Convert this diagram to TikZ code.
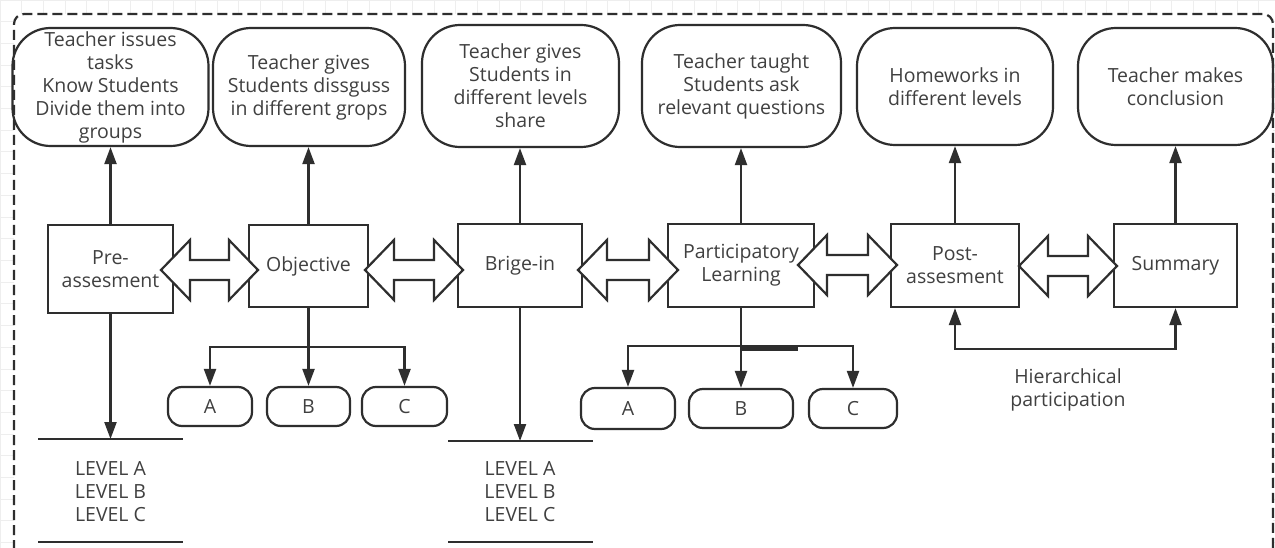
\documentclass[tikz,border=0pt]{standalone}
\usepackage{fontspec}
\setmainfont{Open Sans}
\usetikzlibrary{arrows.meta,calc}
\definecolor{ln}{HTML}{2E2E2E}
\definecolor{tx}{HTML}{404040}
\definecolor{gridc}{HTML}{EEEEEE}
\newcommand\blockarrow[3]{%
  \filldraw[fill=white,draw=ln,line width=2.2pt,line join=miter]
    (#1,#3) -- ({#1+29},{#3-30}) -- ({#1+29},{#3-10}) -- ({#2-29},{#3-10})
    -- ({#2-29},{#3-30}) -- (#2,#3) -- ({#2-29},{#3+30}) -- ({#2-29},{#3+10})
    -- ({#1+29},{#3+10}) -- ({#1+29},{#3+30}) -- cycle;}
\begin{document}
\begin{tikzpicture}[x=1pt,y=-1pt,
  txt/.style={text=tx,font=\fontsize{19.5}{23}\selectfont,align=center},
  tbox/.style={txt,draw=ln,line width=2.2pt,rounded corners=38pt,inner sep=0pt,
    minimum width=196pt,minimum height=118pt},
  mbox/.style={txt,draw=ln,line width=2.2pt,inner sep=0pt},
  sbox/.style={txt,draw=ln,line width=2.2pt,rounded corners=14pt,inner sep=0pt,
    minimum height=39pt},
  conn/.style={draw=ln,line width=2.2pt},
  arr/.style={conn,-{Triangle[length=17pt,width=12pt]}},
  darr/.style={conn,{Triangle[length=17pt,width=12pt]}-{Triangle[length=17pt,width=12pt]}}
]
\useasboundingbox (0,0) rectangle (1275,548);
\clip (0,0) rectangle (1275,548);
% faint canvas grid
\foreach \i in {0,...,59} {\draw[gridc,line width=0.8pt] ({\i*21.7},0) -- ({\i*21.7},548);}
\foreach \j in {0,...,26} {\draw[gridc,line width=0.8pt] (0,{\j*21.7}) -- (1275,{\j*21.7});}
\fill[white] (14,14) rectangle (1273,560);
% dashed frame
\draw[ln,line width=2.2pt,dash pattern=on 10pt off 5pt,rounded corners=10pt]
  (14,565) -- (14,14) -- (1273,14) -- (1273,565);

% top boxes
\node[tbox] (t1) at (110.5,87) {Teacher issues\\tasks\\Know Students\\Divide them into\\groups};
\node[tbox,minimum width=192pt] (t2) at (309,87) {Teacher gives\\Students dissguss\\in different grops};
\node[tbox,minimum width=197pt,minimum height=122pt] (t3) at (520.5,86) {Teacher gives\\Students in\\different levels\\share};
\node[tbox,minimum width=199pt,minimum height=122pt] (t4) at (741.5,86) {Teacher taught\\Students ask\\relevant questions};
\node[tbox,minimum height=117pt] (t5) at (955,86.5) {Homeworks in\\different levels};
\node[tbox,minimum width=195pt,minimum height=117pt] (t6) at (1175.5,86.5) {Teacher makes\\conclusion};

% middle boxes
\node[mbox,minimum width=125pt,minimum height=88pt] (pre) at (110.5,269) {Pre-\\assesment};
\node[mbox,minimum width=119pt,minimum height=82pt] (obj) at (308.5,266) {Objective};
\node[mbox,minimum width=124pt,minimum height=83pt] (brg) at (520,265.5) {Brige-in};
\node[mbox,minimum width=146pt,minimum height=83pt] (par) at (741,265.5) {Participatory\\Learning};
\node[mbox,minimum width=128pt,minimum height=83pt] (post) at (955,265.5) {Post-\\assesment};
\node[mbox,minimum width=123pt,minimum height=83pt] (sum) at (1175.5,265.5) {Summary};

% small boxes
\node[sbox,minimum width=84pt] (oa) at (210,406.5) {A};
\node[sbox,minimum width=83pt] (ob) at (308.5,406.5) {B};
\node[sbox,minimum width=85pt] (oc) at (404.5,406.5) {C};
\node[sbox,minimum width=94pt,minimum height=41pt] (pa) at (628,408.5) {A};
\node[sbox,minimum width=104pt] (pb) at (741,408.5) {B};
\node[sbox,minimum width=88pt] (pc) at (853,408.5) {C};

% level lists
\node[txt] (lv1) at (110.5,492) {LEVEL A\\LEVEL B\\LEVEL C};
\node[txt] (lv2) at (520,492) {LEVEL A\\LEVEL B\\LEVEL C};
\coordinate (l1a) at (38,439);  \coordinate (l1b) at (183,439);
\coordinate (l1c) at (38,542);  \coordinate (l1d) at (183,542);
\coordinate (l2a) at (448,441); \coordinate (l2b) at (593,441);
\coordinate (l2c) at (448,542); \coordinate (l2d) at (593,542);
\draw[conn] (l1a) -- (l1b);
\draw[conn] (l1c) -- (l1d);
\draw[conn] (l2a) -- (l2b);
\draw[conn] (l2c) -- (l2d);

% up arrows to top boxes
\draw[arr] (pre.north) -- (pre.north |- t1.south);
\draw[arr] (obj.north) -- (obj.north |- t2.south);
\draw[arr] (brg.north) -- (brg.north |- t3.south);
\draw[arr] (par.north) -- (par.north |- t4.south);
\draw[arr] (post.north) -- (post.north |- t5.south);
\draw[arr] (sum.north) -- (sum.north |- t6.south);

% down arrows to level lines
\draw[arr] (pre.south) -- (pre.south |- l1a);
\draw[arr] (brg.south) -- (brg.south |- l2a);

% objective branches
\coordinate (oj) at (308.5,347);
\draw[conn] (obj.south) -- (oj);
\draw[arr] (oj) -| (oa.north);
\draw[arr] (oj) -- (ob.north);
\draw[arr] (oj) -| (oc.north);

% participatory branches
\coordinate (pj) at (741,346);
\draw[conn] (par.south) -- (pj);
\draw[arr] (pj) -| (pa.north);
\draw[arr] (pj) -- (pb.north);
\draw[arr] (pj) -| (pc.north);
\coordinate (g1) at (741,349); \coordinate (g2) at (798,349);
\draw[draw=ln,line width=3.4pt] (g1) -- (g2);

% hierarchical participation
\draw[darr] (post.south) -- ++(0,41) -| (sum.south);
\node[txt] (hp) at (1068,390) {Hierarchical\\participation};

% block double arrows
\blockarrow{161}{258}{270}
\blockarrow{365}{463}{270}
\blockarrow{578}{678}{270}
\blockarrow{798}{897}{265}
\blockarrow{1019}{1117}{266}
\end{tikzpicture}
\end{document}
